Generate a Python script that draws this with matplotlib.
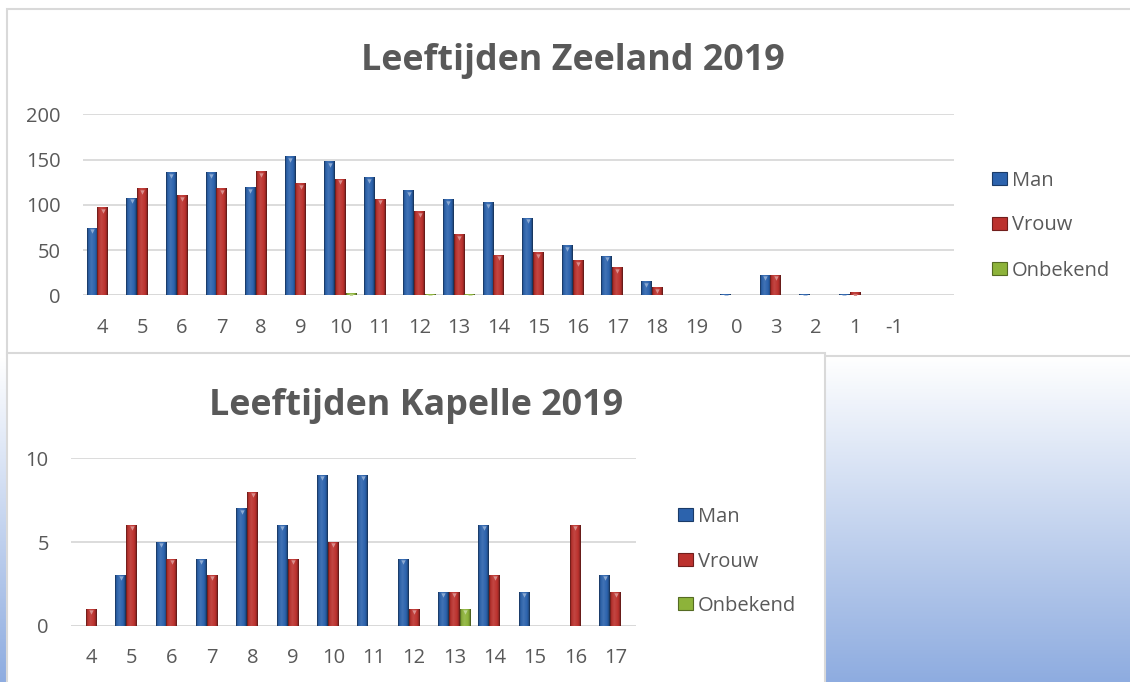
import numpy as np
import matplotlib
matplotlib.use("Agg")
import matplotlib.pyplot as plt
from matplotlib.colors import LinearSegmentedColormap, to_rgb
from matplotlib.patches import Rectangle
from matplotlib import transforms

# data
series = ["Man", "Vrouw", "Onbekend"]

zeeland_cats = ["4", "5", "6", "7", "8", "9", "10", "11", "12", "13", "14",
                "15", "16", "17", "18", "19", "0", "3", "2", "1", "-1", ""]
zeeland_man = [74, 107, 135, 135, 119, 153, 147, 130, 115, 105, 102,
               85, 55, 43, 15, 0, 1, 22, 1, 1, 0, 0]
zeeland_vrouw = [97, 118, 110, 118, 136, 123, 128, 106, 92, 67, 44,
                 47, 38, 30, 8, 0, 0, 22, 0, 3, 0, 0]
zeeland_onbekend = [0, 0, 0, 0, 0, 0, 2, 0, 1, 1, 0,
                    0, 0, 0, 0, 0, 0, 0, 0, 0, 0, 0]

kapelle_cats = ["4", "5", "6", "7", "8", "9", "10", "11", "12", "13",
                "14", "15", "16", "17"]
kapelle_man = [0, 3, 5, 4, 7, 6, 9, 9, 4, 2, 6, 2, 0, 3]
kapelle_vrouw = [1, 6, 4, 3, 8, 4, 5, 0, 1, 2, 3, 0, 6, 2]
kapelle_onbekend = [0, 0, 0, 0, 0, 0, 0, 0, 0, 1, 0, 0, 0, 0]

plt.rcParams['font.family'] = ['Open Sans', 'DejaVu Sans']

W, H = 1130, 682
TXT = '#595959'
GRID = '#D9D9D9'
colors = {"Man": "#2C63AD", "Vrouw": "#BC322E", "Onbekend": "#8DB33A"}


def shade(c, f):
    r = np.array(to_rgb(c))
    if f < 1:
        return tuple(r * f)
    return tuple(r + (1 - r) * (f - 1))


def bevel_cmap(c):
    return LinearSegmentedColormap.from_list("bevel", [
        (0.0, shade(c, 0.5)), (0.12, shade(c, 0.95)), (0.4, shade(c, 1.1)),
        (0.75, to_rgb(c)), (0.9, shade(c, 0.78)), (1.0, shade(c, 0.45))])


def frac(x0, y0, x1, y1):
    return [x0 / W, 1 - y1 / H, (x1 - x0) / W, (y1 - y0) / H]


def draw_chart(ax, cats, data, ymax, step):
    n = len(cats)
    x = np.arange(n)
    w = 0.27
    grad = np.linspace(0, 1, 32).reshape(1, -1)
    tip = transforms.offset_copy(ax.transData, fig=ax.figure, y=-3, units='dots')
    for i, name in enumerate(series):
        bars = ax.bar(x + (i - 1) * w, data[name], w, color=colors[name],
                      linewidth=0, zorder=3)
        cmap = bevel_cmap(colors[name])
        tx, ty = [], []
        for b in bars:
            h = b.get_height()
            if h <= 0:
                continue
            x0 = b.get_x()
            ax.imshow(grad, cmap=cmap, extent=[x0, x0 + w, 0, h],
                      aspect='auto', zorder=3.1)
            tx.append(x0 + w / 2)
            ty.append(h)
        ax.scatter(tx, ty, marker='v', s=10, color=shade(colors[name], 1.45),
                   linewidths=0, transform=tip, zorder=3.2)
    ax.set_xlim(-0.5, n - 0.5)
    ax.set_ylim(0, ymax)
    ax.set_xticks(x)
    ax.set_xticklabels(cats)
    ax.set_yticks(range(0, ymax + 1, step))
    ax.set_facecolor('none')
    for s in ax.spines.values():
        s.set_visible(False)
    ax.grid(axis='y', color=GRID, linewidth=1.3, zorder=1)
    ax.axhline(0, color=GRID, linewidth=2, zorder=2)
    ax.set_axisbelow(True)
    ax.tick_params(length=0, labelsize=14.5, labelcolor=TXT, pad=16)


def draw_legend(bg, x, y0, gap):
    for i, name in enumerate(series):
        y = y0 + i * gap
        bg.add_patch(Rectangle((x, y - 6.5), 14.5, 13, facecolor=colors[name],
                               edgecolor=shade(colors[name], 0.6),
                               linewidth=0.8, zorder=4))
        bg.text(x + 19.5, y + 7.5, name, fontsize=14.5, color=TXT,
                va='baseline', zorder=4)


fig = plt.figure(figsize=(W / 100, H / 100), dpi=100)

# background: slide gradient + chart panels
bg = fig.add_axes([0, 0, 1, 1])
bg.axis('off')
ramp = np.linspace(0, 1, 256).reshape(-1, 1)
bg_cmap = LinearSegmentedColormap.from_list("slide", ["#FFFFFF", "#8EACE0"])
bg.imshow(ramp, cmap=bg_cmap, extent=[0, W, H, 357], aspect='auto', zorder=0)
bg.set_xlim(0, W)
bg.set_ylim(H, 0)
bg.add_patch(Rectangle((7, 9), W, 347, facecolor='white', edgecolor=GRID,
                       linewidth=1.5, zorder=1))
bg.add_patch(Rectangle((7, 353), 818, 340, facecolor='white', edgecolor=GRID,
                       linewidth=1.5, zorder=2))

bg.text(573, 70, "Leeftijden Zeeland 2019", fontsize=25.8, fontweight='bold',
        color=TXT, ha='center', va='baseline', zorder=3)
bg.text(416, 415, "Leeftijden Kapelle 2019", fontsize=25.8, fontweight='bold',
        color=TXT, ha='center', va='baseline', zorder=3)

draw_legend(bg, 992, 178, 45)
draw_legend(bg, 678, 514.5, 44.7)

ax1 = fig.add_axes(frac(83, 114.3, 954, 295.3))
draw_chart(ax1, zeeland_cats,
           {"Man": zeeland_man, "Vrouw": zeeland_vrouw, "Onbekend": zeeland_onbekend},
           200, 50)

ax2 = fig.add_axes(frac(71, 458.3, 636, 625.7))
draw_chart(ax2, kapelle_cats,
           {"Man": kapelle_man, "Vrouw": kapelle_vrouw, "Onbekend": kapelle_onbekend},
           10, 5)

fig.savefig("out.png", dpi=100)
